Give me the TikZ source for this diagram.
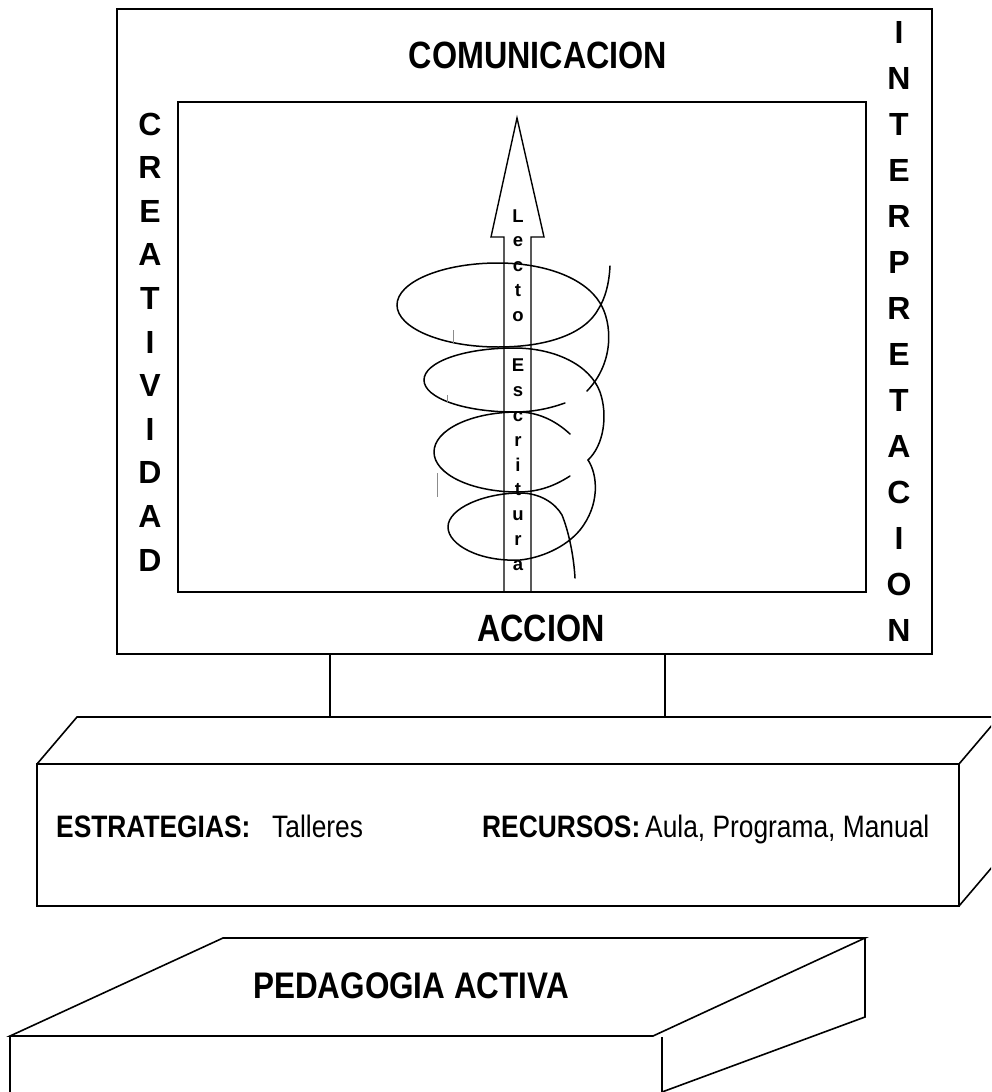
\documentclass[tikz,border=0pt]{standalone}
\usepackage{fontspec}
\setmainfont{Liberation Sans}
\newfontfamily\narrow[FakeStretch=0.85]{Liberation Sans}
\begin{document}
\begin{tikzpicture}[x=1pt,y=-1pt,
  frame/.style={line width=2.2pt},
  edge/.style={line width=1.6pt, line join=miter},
  coil/.style={line width=1.5pt, line cap=round},
  hidden/.style={line width=0.8pt, black!45},
  title/.style={font=\narrow\bfseries\fontsize{38}{38}\selectfont, inner sep=0pt, anchor=base},
  upright/.style={font=\bfseries\fontsize{32}{32}\selectfont, inner sep=0pt},
  stem/.style={font=\bfseries\fontsize{18.5}{18.5}\selectfont, inner sep=0pt, anchor=base},
  keyword/.style={font=\narrow\bfseries\fontsize{31}{31}\selectfont, inner sep=0pt, anchor=base west},
  plain/.style={font=\narrow\fontsize{31}{31}\selectfont, inner sep=0pt, anchor=base west},
]
\useasboundingbox (0,0) rectangle (991,1092);
\clip (0,0) rectangle (991,1092);
\fill[white] (0,0) rectangle (991,1092);

% screen: outer frame and inner panel
\draw[frame] (117,9) rectangle (932,654);
\draw[frame] (178,102) rectangle (866,592);

\node[title] (comm) at (538,68) {COMUNICACION};
\node[title] (acc) at (541,641) {ACCION};

\foreach \ch [count=\i from 0] in {C,R,E,A,T,I,V,I,D,A,D}
  \node[upright] (cre\i) at (150,124+43.6*\i) {\ch};
\foreach \ch [count=\i from 0] in {I,N,T,E,R,P,R,E,T,A,C,I,O,N}
  \node[upright] (int\i) at (899,32+46*\i) {\ch};

% central arrow
\draw[edge, line width=1.4pt] (504,592) -- (504,237) -- (491,237) -- (517,118)
  -- (544,237) -- (531,237) -- (531,592);

% coil wound round the arrow
\draw[coil] (610,266) .. controls (609,285) and (605,298) .. (599,308)
  .. controls (585,335) and (545,347) .. (498,347)
  .. controls (442,347) and (397,328) .. (397,305)
  .. controls (397,282) and (442,263) .. (498,263)
  .. controls (545,263) and (585,278) .. (600,303)
  .. controls (612,322) and (615,362) .. (587,391);
\draw[coil] (565,403) .. controls (548,409) and (532,412) .. (514,412)
  .. controls (464,412) and (424,398) .. (424,380)
  .. controls (424,362) and (464,348) .. (514,348)
  .. controls (555,348) and (590,365) .. (600,392)
  .. controls (608,415) and (604,445) .. (588,460);
\draw[coil] (570,434) .. controls (555,420) and (537,412) .. (518,412)
  .. controls (471,412) and (434,430) .. (434,452)
  .. controls (434,474) and (471,492) .. (518,492)
  .. controls (540,492) and (556,485) .. (570,476);
\draw[coil] (588,460) .. controls (598,475) and (600,505) .. (580,530)
  .. controls (565,548) and (540,558) .. (520,560)
  .. controls (480,562) and (448,545) .. (448,527)
  .. controls (448,508) and (485,493) .. (520,493)
  .. controls (540,493) and (555,503) .. (562,515)
  .. controls (570,535) and (574,560) .. (575,578);
\draw[hidden] (453,330) -- (453,343);
\draw[hidden] (447,395) -- (447,403);
\draw[hidden] (437,473) -- (437,497);

\foreach \k/\ch in {0/L,1/e,2/c,3/t,4/o,6/E,7/s,8/c,9/r,10/i,11/t,12/u,13/r,14/a}
  \node[stem] (lw\k) at (518,222+24.9*\k) {\ch};

% stand
\draw[edge] (330,654) rectangle (665,717);

% middle block
\draw[edge] (37,764) rectangle (959,906);
\draw[edge] (37,764) -- (77,717) -- (999,717) -- (959,764);
\draw[edge] (959,906) -- (999,859);
\node[keyword] (est) at (56,837) {ESTRATEGIAS:};
\node[plain] (tal) at (272,837) {Talleres};
\node[keyword] (rec) at (482,837) {RECURSOS:};
\node[plain] (res) at (645,837) {Aula, Programa, Manual};

% base block
\draw[edge] (10,1036) -- (223,938) -- (865,938) -- (653,1036) -- cycle;
\draw[edge] (10,1036) -- (10,1100);
\draw[edge] (662,1037) -- (662,1100);
\draw[edge] (865,938) -- (865,1017) -- (662,1092);
\node[font=\narrow\bfseries\fontsize{37}{37}\selectfont, inner sep=0pt, anchor=base west]
  (ped) at (253,998) {PEDAGOGIA ACTIVA};
\end{tikzpicture}
\end{document}
